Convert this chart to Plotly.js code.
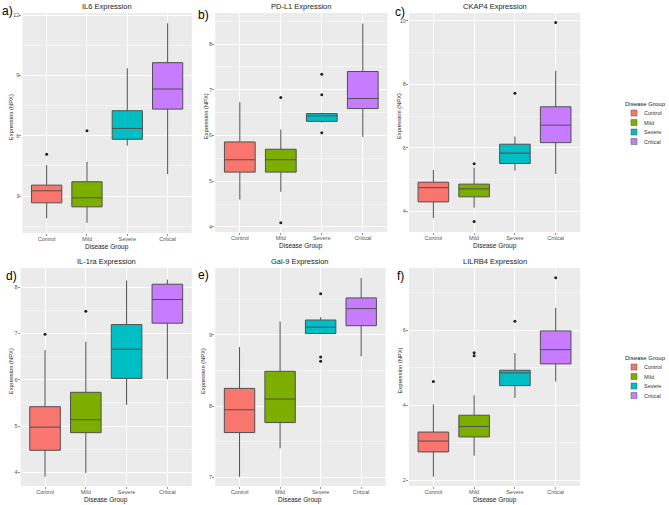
<!DOCTYPE html>
<html>
<head>
<meta charset="utf-8">
<script src="https://cdn.plot.ly/plotly-3.0.1.min.js"></script>
<style>html,body{margin:0;padding:0;background:#fff;}#chart{width:669px;height:505px;}</style>
</head>
<body>
<div id="chart"></div>
<script>
// ---- data ----
const groups = ["Control", "Mild", "Severe", "Critical"];
const groupColors = ["#F8766D", "#7CAE00", "#00BFC4", "#C77CFF"];

// IL6
const IL6_lower  = [1.89, 1.67, 5.50, 4.09];
const IL6_q1     = [2.66, 2.46, 5.82, 7.32];
const IL6_median = [3.26, 2.91, 6.36, 8.32];
const IL6_q3     = [3.54, 3.71, 7.24, 9.63];
const IL6_upper  = [4.54, 4.70, 9.35, 11.59];
const IL6_out    = [[5.08], [6.24], [], []];

// PD-L1
const PDL1_lower  = [4.60, 4.77, 6.28, 5.97];
const PDL1_q1     = [5.20, 5.20, 6.31, 6.59];
const PDL1_median = [5.47, 5.47, 6.43, 6.81];
const PDL1_q3     = [5.86, 5.70, 6.48, 7.40];
const PDL1_upper  = [6.73, 6.13, 6.50, 8.45];
const PDL1_out    = [[], [6.83, 4.09], [7.34, 6.89, 6.06], []];

// CKAP4
const CKAP4_lower  = [3.78, 4.11, 5.27, 5.17];
const CKAP4_q1     = [4.29, 4.45, 5.50, 6.16];
const CKAP4_median = [4.74, 4.70, 5.83, 6.71];
const CKAP4_q3     = [4.91, 4.85, 6.11, 7.29];
const CKAP4_upper  = [5.30, 5.37, 6.35, 8.43];
const CKAP4_out    = [[], [5.49, 3.67], [7.72], [9.95]];

// IL-1ra
const IL1RA_lower  = [3.91, 3.99, 5.46, 6.01];
const IL1RA_q1     = [4.48, 4.86, 6.03, 7.22];
const IL1RA_median = [4.98, 5.14, 6.66, 7.73];
const IL1RA_q3     = [5.42, 5.73, 7.19, 8.06];
const IL1RA_upper  = [6.64, 6.82, 8.14, 8.16];
const IL1RA_out    = [[6.98], [7.48], [], []];

// Gal-9
const GAL9_lower  = [7.01, 7.41, 9.02, 8.70];
const GAL9_q1     = [7.63, 7.77, 9.02, 9.13];
const GAL9_median = [7.95, 8.10, 9.11, 9.37];
const GAL9_q3     = [8.25, 8.49, 9.21, 9.52];
const GAL9_upper  = [8.83, 9.19, 9.25, 9.80];
const GAL9_out    = [[], [], [9.58, 8.69, 8.63], []];

// LILRB4
const LILRB4_lower  = [2.09, 2.65, 4.19, 4.63];
const LILRB4_q1     = [2.75, 3.15, 4.52, 5.10];
const LILRB4_median = [3.04, 3.43, 4.86, 5.48];
const LILRB4_q3     = [3.28, 3.73, 4.93, 5.98];
const LILRB4_upper  = [4.02, 4.26, 5.39, 6.60];
const LILRB4_out    = [[4.63], [5.40, 5.32], [6.24], [7.40]];

const panelTitles = ["IL6 Expression", "PD-L1 Expression", "CKAP4 Expression",
                     "IL-1ra Expression", "Gal-9 Expression", "LILRB4 Expression"];
const panelLetters = ["a)", "b)", "c)", "d)", "e)", "f)"];

// ---- layout geometry (pixels) ----
const W = 669, H = 505;
const panels = [
  {stats:[IL6_lower,IL6_q1,IL6_median,IL6_q3,IL6_upper], out:IL6_out, x0:24, x1:205, y0:13, y1:233, range:[1.16,12.1], dtick:3, legend:null},
  {stats:[PDL1_lower,PDL1_q1,PDL1_median,PDL1_q3,PDL1_upper], out:PDL1_out, x0:230, x1:414, y0:13, y1:232, range:[3.89,8.68], dtick:1, legend:null},
  {stats:[CKAP4_lower,CKAP4_q1,CKAP4_median,CKAP4_q3,CKAP4_upper], out:CKAP4_out, x0:437, x1:620, y0:13, y1:232, range:[3.34,10.25], dtick:2, legend:"legend"},
  {stats:[IL1RA_lower,IL1RA_q1,IL1RA_median,IL1RA_q3,IL1RA_upper], out:IL1RA_out, x0:22, x1:205, y0:268, y1:486, range:[3.71,8.41], dtick:1, legend:null},
  {stats:[GAL9_lower,GAL9_q1,GAL9_median,GAL9_q3,GAL9_upper], out:GAL9_out, x0:230, x1:412, y0:268, y1:486, range:[6.88,9.94], dtick:1, legend:null},
  {stats:[LILRB4_lower,LILRB4_q1,LILRB4_median,LILRB4_q3,LILRB4_upper], out:LILRB4_out, x0:437, x1:620, y0:268, y1:486, range:[1.84,7.66], dtick:2, legend:"legend2"}
];
const yAxTitleX = [12, 221, 427, 12, 217, 427];
const letterPos = [[8,11],[218,15],[428,12],[12,276],[218,275],[428,276]];
const legendPos = {legend: [624, 98], legend2: [624, 352]};

const px = v => v / W;
const py = v => 1 - v / H;

const traces = [];
const layout = {
  width: W, height: H,
  margin: {l:0, r:0, t:0, b:0},
  paper_bgcolor: "#ffffff",
  plot_bgcolor: "#EBEBEB",
  boxmode: "overlay",
  font: {family: "Liberation Sans, Arial, sans-serif", color: "#333"},
  annotations: [],
  showlegend: true
};

panels.forEach((p, i) => {
  const n = i + 1;
  const xa = n === 1 ? "x" : "x" + n;
  const ya = n === 1 ? "y" : "y" + n;
  const xKey = n === 1 ? "xaxis" : "xaxis" + n;
  const yKey = n === 1 ? "yaxis" : "yaxis" + n;

  groups.forEach((g, k) => {
    traces.push({
      type: "box", name: g, x: [g],
      lowerfence: [p.stats[0][k]], q1: [p.stats[1][k]], median: [p.stats[2][k]],
      q3: [p.stats[3][k]], upperfence: [p.stats[4][k]],
      xaxis: xa, yaxis: ya,
      fillcolor: groupColors[k],
      line: {color: "#505050", width: 1},
      whiskerwidth: 0, width: 0.75,
      boxpoints: false,
      showlegend: p.legend !== null,
      legend: p.legend || "legend",
      hoverinfo: "skip"
    });
    if (p.out[k].length) {
      traces.push({
        type: "scatter", mode: "markers",
        x: p.out[k].map(() => g), y: p.out[k],
        xaxis: xa, yaxis: ya,
        marker: {color: "#222", size: 3},
        showlegend: false, hoverinfo: "skip"
      });
    }
  });

  layout[xKey] = {
    domain: [px(p.x0), px(p.x1)],
    anchor: ya,
    type: "category",
    categoryorder: "array", categoryarray: groups,
    range: [-0.6, 3.6],
    showgrid: true, gridcolor: "#ffffff", gridwidth: 1,
    zeroline: false, showline: false,
    ticks: "outside", ticklen: 2, tickcolor: "#444", tickwidth: 0.6,
    ticklabelstandoff: -2,
    tickfont: {size: 5.5, color: "#555"},
    fixedrange: true
  };
  layout[yKey] = {
    domain: [py(p.y1), py(p.y0)],
    anchor: xa,
    range: p.range,
    dtick: p.dtick, tick0: 0,
    showgrid: true, gridcolor: "#ffffff", gridwidth: 1,
    minor: {dtick: p.dtick / 2, showgrid: true, gridcolor: "#f8f8f8", gridwidth: 0.8, ticks: ""},
    zeroline: false, showline: false,
    ticks: "outside", ticklen: 2, tickcolor: "#444", tickwidth: 0.6,
    ticklabelstandoff: -1,
    tickfont: {size: 5.5, color: "#555"},
    fixedrange: true
  };

  const cx = (p.x0 + p.x1) / 2;
  const cy = (p.y0 + p.y1) / 2;
  layout.annotations.push({
    text: panelTitles[i], xref: "paper", yref: "paper",
    x: px(cx), y: py(p.y0 - 7), xanchor: "center", yanchor: "middle",
    showarrow: false, font: {size: 7.5, color: "#222"}
  });
  layout.annotations.push({
    text: "Disease Group", xref: "paper", yref: "paper",
    x: px(cx), y: py(p.y1 + 14), xanchor: "center", yanchor: "middle",
    showarrow: false, font: {size: 6.5, color: "#222"}
  });
  layout.annotations.push({
    text: "Expression (NPX)", xref: "paper", yref: "paper",
    x: px(yAxTitleX[i]), y: py(cy - 6), xanchor: "center", yanchor: "middle",
    textangle: -90, showarrow: false, font: {size: 5.8, color: "#222"}
  });
  layout.annotations.push({
    text: panelLetters[i], xref: "paper", yref: "paper",
    x: px(letterPos[i][0]), y: py(letterPos[i][1]), xanchor: "center", yanchor: "middle",
    showarrow: false, font: {size: 12, color: "#000"}
  });
});

// legends are drawn at double size and scaled to half after rendering
const legendStyle = (key) => ({
  x: px(legendPos[key][0]), y: py(legendPos[key][1]), xanchor: "left", yanchor: "top",
  bgcolor: "rgba(0,0,0,0)",
  title: {text: "Disease Group", font: {size: 12, color: "#222"}, side: "top"},
  font: {size: 11, color: "#333"},
  tracegroupgap: 0,
  itemclick: false, itemdoubleclick: false
});
layout.legend = legendStyle("legend");
layout.legend2 = legendStyle("legend2");

Plotly.newPlot("chart", traces, layout, {staticPlot: true, displayModeBar: false}).then(gd => {
  Object.keys(legendPos).forEach(key => {
    const g = gd.querySelector("g." + key);
    if (g) {
      g.setAttribute("transform", "translate(" + legendPos[key][0] + "," + legendPos[key][1] + ") scale(0.5)");
    }
  });
});
</script>
</body>
</html>
